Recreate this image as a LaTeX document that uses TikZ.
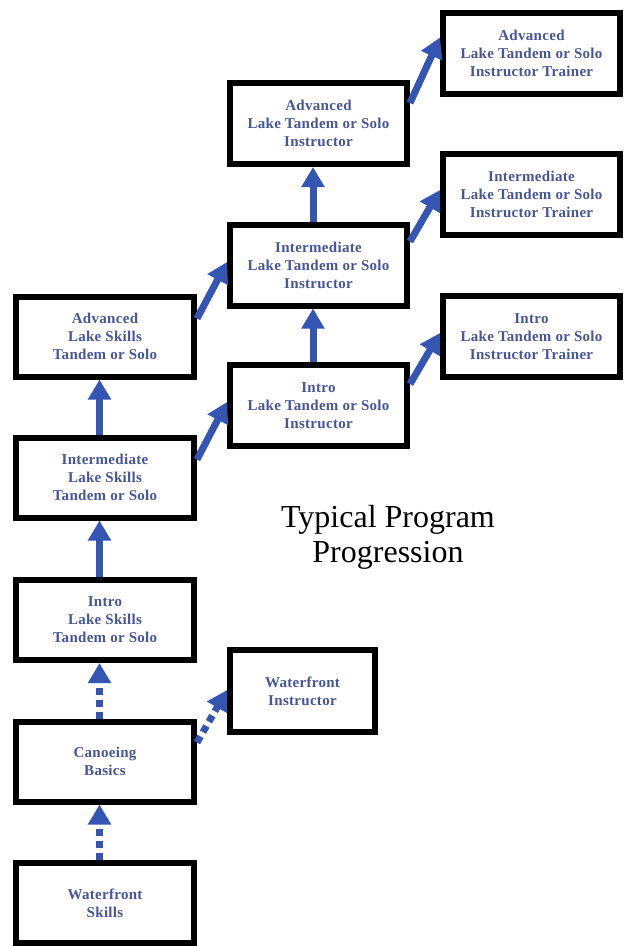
\documentclass[tikz,border=0pt]{standalone}
\usepackage{fontspec}
\setmainfont{Liberation Serif}
\newfontfamily\boxfont[LetterSpace=2]{Liberation Serif}
\usetikzlibrary{arrows.meta,calc}
\definecolor{arrowblue}{RGB}{52,86,178}
\definecolor{textblue}{RGB}{70,86,150}
\begin{document}
\begin{tikzpicture}[x=1pt,y=-1pt,
  box/.style={draw=black, line width=6pt, outer sep=3pt, inner sep=0pt, fill=white,
    align=center, text=textblue, font=\boxfont\fontsize{15}{18}\selectfont\bfseries,
    minimum width=178pt, minimum height=80pt},
  midbox/.style={box, minimum width=177pt, minimum height=81pt},
  trainbox/.style={box, minimum width=177pt, minimum height=81pt},
  conn/.style={draw=arrowblue, line width=7pt, line cap=butt, -{Triangle[width=22pt,length=20pt]}},
  dotconn/.style={conn, dash pattern=on 7pt off 5pt}]
\useasboundingbox (0,0) rectangle (625,946);
\fill[white] (0,0) rectangle (625,946);

% left column
\node[box] (advs) at (105,336.5) {Advanced\\Lake Skills\\Tandem or Solo};
\node[box] (ints) at (105,477.5) {Intermediate\\Lake Skills\\Tandem or Solo};
\node[box] (intros) at (105,620) {Intro\\Lake Skills\\Tandem or Solo};
\node[box] (canoe) at (105,761.5) {Canoeing\\Basics};
\node[box] (wsk) at (105,903) {Waterfront\\Skills};

% middle column
\node[box, minimum width=145pt, minimum height=82pt] (winst) at (302.5,691) {Waterfront\\Instructor};
\node[midbox] (introi) at (318.5,405.5) {Intro\\Lake Tandem or Solo\\Instructor};
\node[midbox] (inti) at (318.5,265) {Intermediate\\Lake Tandem or Solo\\Instructor};
\node[midbox] (advi) at (318.5,123.5) {Advanced\\Lake Tandem or Solo\\Instructor};

% right column
\node[trainbox] (advt) at (531.5,53.5) {Advanced\\Lake Tandem or Solo\\Instructor Trainer};
\node[trainbox] (intt) at (531.5,194) {Intermediate\\Lake Tandem or Solo\\Instructor Trainer};
\node[trainbox] (introt) at (531.5,336.5) {Intro\\Lake Tandem or Solo\\Instructor Trainer};

% caption
\node[font=\fontsize{32}{35}\selectfont, align=center, inner sep=0pt] (title) at (388,537) {Typical Program\\Progression};

% vertical connectors
\draw[conn] ([xshift=-5.5pt]ints.north) -- ([xshift=-5.5pt]advs.south);
\draw[conn] ([xshift=-5.5pt]intros.north) -- ([xshift=-5.5pt]ints.south);
\draw[dotconn] ([xshift=-5.5pt]canoe.north) -- ([xshift=-5.5pt]intros.south);
\draw[dotconn] ([xshift=-5.5pt]wsk.north) -- ([xshift=-5.5pt]canoe.south);
\draw[conn] ([xshift=-5.5pt]introi.north) -- ([xshift=-5.5pt]inti.south);
\draw[conn] ([xshift=-5.5pt]inti.north) -- ([xshift=-5.5pt]advi.south);

% diagonal connectors
\draw[conn] ($(advs.north east)+(0,25)$) -- ($(inti.west)+(0,-3)$);
\draw[conn] ($(ints.north east)+(0,25)$) -- ($(introi.west)+(0,-3.5)$);
\draw[dotconn] ($(canoe.north east)+(0,24)$) -- ($(winst.west)+(0,-1)$);
\draw[conn] ($(introi.north east)+(0,22)$) -- ($(introt.west)+(0,-3.5)$);
\draw[conn] ($(inti.north east)+(0,20)$) -- ($(intt.west)+(0,-4)$);
\draw[conn] ($(advi.north east)+(0,23)$) -- ($(advt.west)+(0,-16)$);
\end{tikzpicture}
\end{document}
